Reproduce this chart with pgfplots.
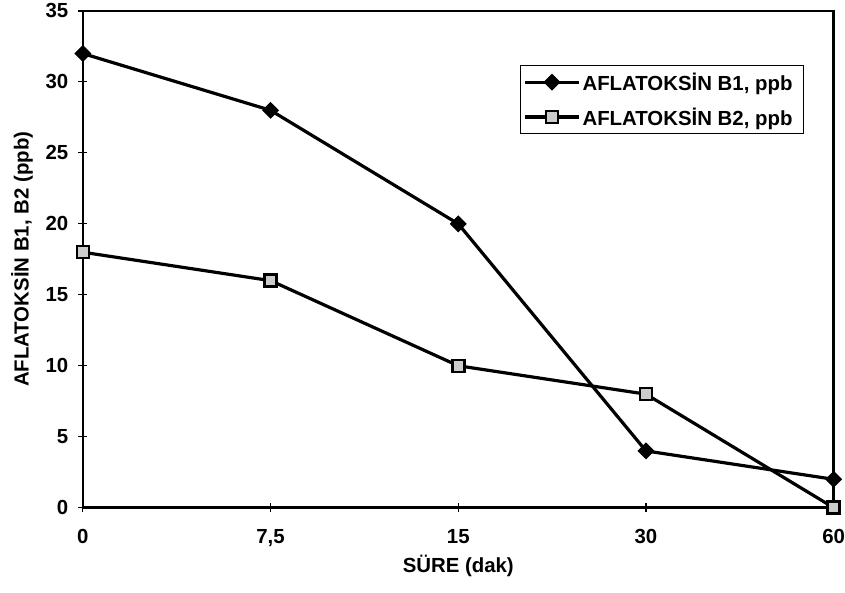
\documentclass[border=0pt]{standalone}
\usepackage{fontspec}
\setmainfont{Liberation Sans}
\usepackage{pgfplots}
\pgfplotsset{compat=1.18}
\usetikzlibrary{calc}
\begin{document}
\begin{tikzpicture}[x=1bp,y=1bp]
\begin{axis}[
  scale only axis,
  width=752bp, height=497.5bp,
  xmin=0, xmax=4, ymin=0, ymax=35,
  xtick={0,1,2,3,4},
  xticklabels={0,{7,5},15,30,60},
  ytick={0,5,10,15,20,25,30,35},
  xtick pos=left, ytick pos=left,
  tick align=center,
  major tick length=9bp,
  axis line style={line width=2.6bp},
  every tick/.style={black, line width=1.1bp},
  /pgf/number format/assume math mode=true,
  tick label style={font=\fontsize{20.5}{24}\selectfont\bfseries, inner sep=0pt},
  xticklabel style={anchor=base, yshift=-31bp},
  yticklabel style={anchor=east, xshift=-10bp},
  label style={font=\fontsize{20.5}{24}\selectfont\bfseries},
  xlabel={SÜRE (dak)},
  ylabel={AFLATOKSİN B1, B2 (ppb)},
  xlabel style={at={(axis description cs:0.5,-0.1176)}, anchor=center},
  ylabel style={at={(axis description cs:-0.081,0.5)}, anchor=center},
  legend style={at={(0.582,0.891)}, anchor=north west, draw=black, line width=1.2bp,
    font=\fontsize{20.5}{24}\selectfont\bfseries, inner xsep=3bp, inner ysep=5bp, row sep=12bp,
    legend cell align=left},
  legend image code/.code={\draw[#1, mark repeat=2, mark phase=2] plot coordinates {(0bp,0bp) (27bp,0bp) (54bp,0bp)};},
]
\addplot[black, line width=3.2bp, mark=square*, mark size=5.5bp, mark options={solid, rotate=45, fill=black, line width=1bp}]
  coordinates {(0,32) (1,28) (2,20) (3,4) (4,2)};
\addlegendentry{AFLATOKSİN B1, ppb\hspace*{6bp}}
\addplot[black, line width=3.2bp, mark=square*, mark size=6bp, mark options={solid, fill=gray!40, line width=2.5bp}]
  coordinates {(0,18) (1,16) (2,10) (3,8) (4,0)};
\addlegendentry{AFLATOKSİN B2, ppb\hspace*{6bp}}
\end{axis}
\path ($(current axis.south west)+(-83bp,-84.5bp)$) rectangle ($(current axis.north east)+(10bp,11bp)$);
\end{tikzpicture}
\end{document}
